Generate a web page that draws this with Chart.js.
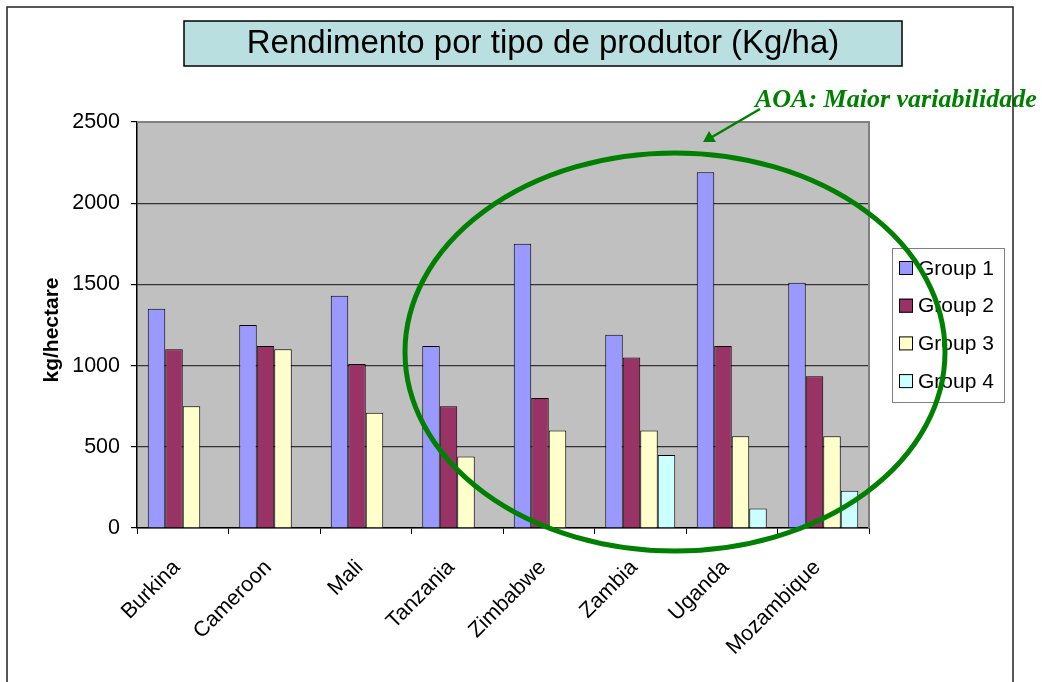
<!DOCTYPE html>
<html>
<head>
<meta charset="utf-8">
<script src="https://cdn.jsdelivr.net/npm/chart.js@4.4.1/dist/chart.umd.min.js"></script>
<style>
  html, body { margin: 0; padding: 0; background: #fff; }
  #wrap { width: 1042px; height: 682px; }
</style>
</head>
<body>
<div id="wrap"><canvas id="chart" width="1042" height="682"></canvas></div>
<script>
// Data
const countries = ['Burkina', 'Cameroon', 'Mali', 'Tanzania', 'Zimbabwe', 'Zambia', 'Uganda', 'Mozambique'];
const groupNames = ['Group 1', 'Group 2', 'Group 3', 'Group 4'];
const group1 = [1350, 1250, 1430, 1120, 1750, 1190, 2190, 1510];
const group2 = [1100, 1120, 1010, 750, 800, 1050, 1120, 935];
const group3 = [750, 1100, 710, 440, 600, 600, 565, 565];
const group4 = [null, null, null, null, null, 450, 120, 230];
const yTicks = [0, 500, 1000, 1500, 2000, 2500];

const chartTitle = 'Rendimento por tipo de produtor (Kg/ha)';
const yAxisTitle = 'kg/hectare';
const noteText = 'AOA: Maior variabilidade';

const COLORS = {
  g1: '#9999FF',
  g2: '#993366',
  g3: '#FFFFCC',
  g4: '#CCFFFF',
  plot: '#C0C0C0',
  grid: '#333333',
  titleBox: '#B9DFE1',
  green: '#008000'
};

const FONT = '"Liberation Sans", Arial, sans-serif';

/**
 * Extra drawing: plot background, frame, title box, legend, ellipse note
 */
const decorPlugin = {
  id: 'decor',
  beforeDraw(chart) {
    const { ctx, chartArea: a } = chart;
    ctx.save();
    ctx.fillStyle = '#fff';
    ctx.fillRect(0, 0, chart.width, chart.height);
    ctx.fillStyle = COLORS.plot;
    ctx.fillRect(a.left, a.top, a.right - a.left, a.bottom - a.top);
    ctx.restore();
  },
  afterDraw(chart) {
    const { ctx, chartArea: a } = chart;
    ctx.save();

    // plot border (top/right)
    ctx.strokeStyle = '#808080';
    ctx.lineWidth = 2;
    ctx.beginPath();
    ctx.moveTo(a.left, a.top);
    ctx.lineTo(a.right, a.top);
    ctx.lineTo(a.right, a.bottom);
    ctx.stroke();

    // title box
    ctx.fillStyle = COLORS.titleBox;
    ctx.fillRect(184, 21, 718, 45);
    ctx.strokeStyle = '#000';
    ctx.lineWidth = 1.5;
    ctx.strokeRect(184, 21, 718, 45);
    ctx.fillStyle = '#000';
    ctx.font = '33px ' + FONT;
    ctx.textAlign = 'center';
    ctx.textBaseline = 'middle';
    ctx.fillText(chartTitle, 543, 44);

    // y axis title
    ctx.save();
    ctx.translate(52, 330);
    ctx.rotate(-Math.PI / 2);
    ctx.font = 'bold 21px ' + FONT;
    ctx.fillText(yAxisTitle, 0, 0);
    ctx.restore();

    // legend
    ctx.fillStyle = '#fff';
    ctx.fillRect(892, 248, 112, 154);
    ctx.strokeStyle = '#808080';
    ctx.lineWidth = 1;
    ctx.strokeRect(892.5, 248.5, 112, 154);
    ctx.font = '21px ' + FONT;
    ctx.textAlign = 'left';
    ctx.textBaseline = 'middle';
    chart.data.datasets.forEach((ds, i) => {
      const cy = 268 + i * 37.7;
      ctx.fillStyle = ds.backgroundColor;
      ctx.fillRect(899, cy - 7, 14, 14);
      ctx.strokeStyle = '#000';
      ctx.strokeRect(899.5, cy - 6.5, 13, 13);
      ctx.fillStyle = '#000';
      ctx.fillText(ds.label, 918, cy + 1);
    });

    // green ellipse
    ctx.strokeStyle = COLORS.green;
    ctx.lineWidth = 5;
    ctx.beginPath();
    ctx.ellipse(675, 352, 270, 199, 0, 0, Math.PI * 2);
    ctx.stroke();

    // arrow
    ctx.lineWidth = 2.5;
    ctx.beginPath();
    ctx.moveTo(760, 109);
    ctx.lineTo(712, 137);
    ctx.stroke();
    ctx.fillStyle = COLORS.green;
    ctx.beginPath();
    ctx.moveTo(703, 142);
    ctx.lineTo(709, 131);
    ctx.lineTo(716, 142);
    ctx.closePath();
    ctx.fill();

    // note text
    ctx.font = 'italic bold 26px "Liberation Serif", "DejaVu Serif", serif';
    ctx.textAlign = 'left';
    ctx.textBaseline = 'alphabetic';
    ctx.fillText(noteText, 755, 107);

    // outer frame
    ctx.strokeStyle = '#222';
    ctx.lineWidth = 1.5;
    ctx.beginPath();
    ctx.moveTo(7, 700);
    ctx.lineTo(7, 7);
    ctx.lineTo(1013, 7);
    ctx.lineTo(1013, 700);
    ctx.stroke();

    ctx.restore();
  }
};

function makeDataset(label, data, color) {
  return {
    label: label,
    data: data,
    backgroundColor: color,
    borderColor: '#000',
    borderWidth: 1,
    borderSkipped: 'bottom'
  };
}

const chart = new Chart(document.getElementById('chart'), {
  type: 'bar',
  data: {
    labels: countries,
    datasets: [
      makeDataset(groupNames[0], group1, COLORS.g1),
      makeDataset(groupNames[1], group2, COLORS.g2),
      makeDataset(groupNames[2], group3, COLORS.g3),
      makeDataset(groupNames[3], group4, COLORS.g4)
    ]
  },
  options: {
    responsive: false,
    devicePixelRatio: 1,
    animation: false,
    layout: { padding: { top: 122, right: 173, left: 0, bottom: 0 } },
    datasets: {
      bar: { categoryPercentage: 0.765, barPercentage: 1 }
    },
    plugins: {
      legend: { display: false },
      title: { display: false },
      tooltip: { enabled: false }
    },
    scales: {
      x: {
        afterFit: s => { s.height = 154; },
        grid: {
          drawOnChartArea: false,
          drawTicks: true,
          tickLength: 6,
          color: '#000'
        },
        border: { color: '#000', width: 1.5 },
        ticks: {
          color: '#000',
          font: { family: FONT, size: 21.5 },
          maxRotation: 45,
          minRotation: 45,
          padding: 21,
          labelOffset: -6
        }
      },
      y: {
        min: 0,
        max: 2500,
        afterFit: s => { s.width = 137; },
        afterBuildTicks: s => { s.ticks = yTicks.map(v => ({ value: v })); },
        grid: {
          color: ctx => (ctx.tick && ctx.tick.value === 2500 ? '#808080' : COLORS.grid),
          tickColor: '#000',
          tickLength: 6,
          lineWidth: 1.2
        },
        border: { color: '#000', width: 1.5 },
        ticks: {
          color: '#000',
          font: { family: FONT, size: 21.5 },
          padding: 11,
          callback: v => String(v)
        }
      }
    }
  },
  plugins: [decorPlugin]
});
</script>
</body>
</html>
